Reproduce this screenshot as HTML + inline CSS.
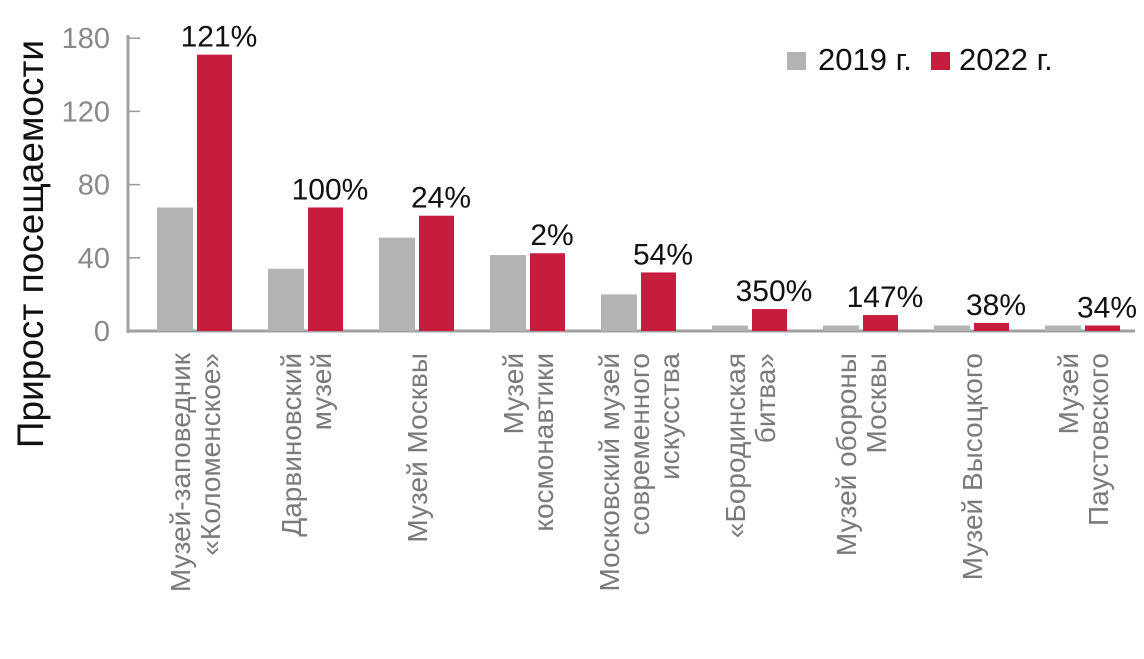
<!DOCTYPE html>
<html><head><meta charset="utf-8"><style>
html,body{margin:0;padding:0;background:#fff;}
svg{display:block;font-family:"Liberation Sans",sans-serif;}
</style></head><body>
<svg id="chart" width="1144" height="659" viewBox="0 0 1144 659">
<g id="axes"></g>
<g id="bars"></g>
<g id="labels"></g>
<text transform="translate(43,244) rotate(-90)" text-anchor="middle" font-size="37" fill="#111">Прирост посещаемости</text>
<g>
<rect x="787" y="52" width="19" height="18" fill="#b3b3b3"/>
<text x="818" y="70" font-size="31" fill="#111">2019 г.</text>
<rect x="931" y="52" width="19" height="18" fill="#c61d3f"/>
<text x="959" y="70" font-size="31" fill="#111">2022 г.</text>
</g>
</svg>
<script>
const categories=[["Музей-заповедник","«Коломенское»"],["Дарвиновский","музей"],["Музей Москвы"],["Музей","космонавтики"],["Московский музей","современного","искусства"],["«Бородинская","битва»"],["Музей обороны","Москвы"],["Музей Высоцкого"],["Музей","Паустовского"]];
const values2019=[67.5,34,51,41.5,20,3,3,3,3];
const values2022=[151,67.5,63,42.5,32,12,8.7,4.4,3];
const growthLabels=["121%","100%","24%","2%","54%","350%","147%","38%","34%"];
const tickValues=[0,40,80,120,160];
const tickLabels=["0","40","80","120","180"];

const NS="http://www.w3.org/2000/svg";
const y0=331, k=1.83;
function y(v){return y0-v*k;}
function gx(i){return 157+i*111;}
function mk(tag,attrs,parent){const e=document.createElementNS(NS,tag);for(const a in attrs)e.setAttribute(a,attrs[a]);parent.appendChild(e);return e;}
const axes=document.getElementById('axes'),bars=document.getElementById('bars'),labels=document.getElementById('labels');

tickValues.forEach((t,i)=>{
  const tk=mk('line',{x1:128,x2:140,y1:y(t),y2:y(t),stroke:'#999','stroke-width':1.5},axes);
  
  
  const tl=mk('text',{x:110,y:y(t)+10,'text-anchor':'end','font-size':29,fill:'#888'},axes);
  tl.textContent=tickLabels[i];
  
  
});
const ya=mk('line',{x1:128,x2:128,y1:35,y2:333,stroke:'#a0a0a0','stroke-width':3},axes);



categories.forEach((c,i)=>{
  const x=gx(i);
  const b1=mk('rect',{x:x,y:y(values2019[i]),width:36,height:values2019[i]*k,fill:'#b3b3b3'},bars);
  
  
  const b2=mk('rect',{x:x+40,y:y(values2022[i]),width:35,height:values2022[i]*k,fill:'#c61d3f'},bars);
  
  
  const pl=mk('text',{x:x+62,y:y(values2022[i])-8,'text-anchor':'middle','font-size':30,fill:'#111'},bars);
  pl.textContent=growthLabels[i];
  
  
  const cx=x+38, n=c.length;
  c.forEach((line,j)=>{
    const lx=cx+(j-(n-1)/2)*30+10;
    const t=mk('text',{transform:`translate(${lx},353) rotate(-90)`,'text-anchor':'end','font-size':28,fill:'#7a7a7a'},labels);
    t.textContent=line;
    
    
  });
});
const xa=mk('line',{x1:127,x2:1135,y1:331,y2:331,stroke:'#a0a0a0','stroke-width':3},axes);


</script>
</body></html>
